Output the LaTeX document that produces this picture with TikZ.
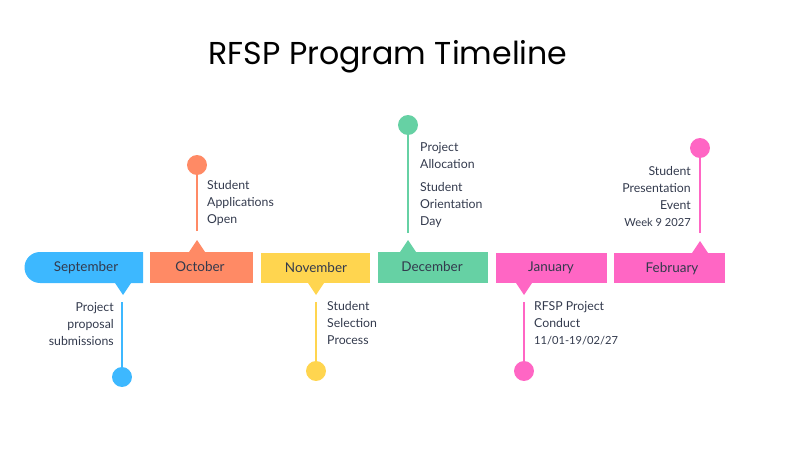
\documentclass[tikz,border=0pt]{standalone}
\usepackage{fontspec}
\setmainfont{Lato}
\newfontfamily\titlefont{Poppins}
\usetikzlibrary{positioning}
\definecolor{sepblue}{HTML}{3DB8FF}
\definecolor{octorange}{HTML}{FF8A65}
\definecolor{novyellow}{HTML}{FFD54F}
\definecolor{decgreen}{HTML}{66D1A4}
\definecolor{pinkish}{HTML}{FF66C4}
\definecolor{ink}{HTML}{333A4D}
\begin{document}
\begin{tikzpicture}[x=0.03cm, y=-0.03cm,
    month/.style={text=ink, font=\fontsize{11.5}{13}\selectfont},
    dot/.style={circle, minimum size=17pt, inner sep=0pt},
    stem/.style={line width=1.2pt},
    note/.style={text=ink, font=\fontsize{10.5}{14.5}\selectfont, inner sep=0pt, align=left}]
    \useasboundingbox (0,0) rectangle (800,450);

    \node[text=black, font=\titlefont\fontsize{27}{30}\selectfont] (title) at (388,57) {RFSP Program Timeline};

    % month bars
    \fill[sepblue] (143,252) -- (40,252) arc (270:90:15.5) -- (143,283) -- cycle;
    \fill[sepblue] (115,283) -- (123,295) -- (131,283) -- cycle;
    \node[month] (sep) at (86,268) {September};
    \fill[octorange] (150,252) rectangle (253,283);
    \fill[octorange] (189,252) -- (197,240) -- (205,252) -- cycle;
    \node[month] (oct) at (200,267) {October};
    \fill[novyellow] (261,253) rectangle (370,283);
    \fill[novyellow] (308,283) -- (316,295) -- (324,283) -- cycle;
    \node[month] (nov) at (316,268) {November};
    \fill[decgreen] (378,252) rectangle (488,283);
    \fill[decgreen] (400,252) -- (408,240) -- (416,252) -- cycle;
    \node[month] (dec) at (432,267) {December};
    \fill[pinkish] (496,253) rectangle (607,283);
    \fill[pinkish] (516,283) -- (524,295) -- (532,283) -- cycle;
    \node[month] (jan) at (551,268) {January};
    \fill[pinkish] (614,253) rectangle (725,283);
    \fill[pinkish] (692,253) -- (700,241) -- (708,253) -- cycle;
    \node[month] (feb) at (672,269) {February};

    % dots
    \node[dot, fill=sepblue] (d1) at (122,377) {};
    \node[dot, fill=octorange] (d2) at (197,165) {};
    \node[dot, fill=novyellow] (d3) at (316,371) {};
    \node[dot, fill=decgreen] (d4) at (408,125) {};
    \node[dot, fill=pinkish] (d5) at (524,371) {};
    \node[dot, fill=pinkish] (d6) at (700,148) {};

    \coordinate (p1) at (122,302);
    \coordinate (p2) at (197,231);
    \coordinate (p3) at (316,302);
    \coordinate (p4) at (408,233);
    \coordinate (p5) at (524,302);
    \coordinate (p6) at (700,233);

    \draw[stem, sepblue] (p1) -- ([yshift=-5pt]d1.north);
    \draw[stem, octorange] (p2) -- ([yshift=5pt]d2.south);
    \draw[stem, novyellow] (p3) -- ([yshift=-4pt]d3.north);
    \draw[stem, decgreen] (p4) -- ([yshift=5pt]d4.south);
    \draw[stem, pinkish] (p5) -- ([yshift=-5pt]d5.north);
    \draw[stem, pinkish] (p6) -- ([yshift=5pt]d6.south);

    % notes
    \node[note, align=right, anchor=north east] (t1) at (114,302) {Project\\proposal\\submissions};
    \node[note, anchor=north west] (t2) at (207,180) {Student\\Applications\\Open};
    \node[note, anchor=north west] (t3) at (327,301) {Student\\Selection\\Process};
    \node[note, anchor=north west] (t4) at (420,142) {Project\\Allocation};
    \node[note, anchor=north west] (t5) at (420,182) {Student\\Orientation\\Day};
    \node[note, anchor=north west] (t6) at (534,301) {RFSP Project\\Conduct\\{\fontsize{9.5}{14.5}\selectfont 11/01-19/02/27}};
    \node[note, align=right, anchor=north east] (t7) at (691,166) {Student\\Presentation\\Event\\{\fontsize{9.5}{14.5}\selectfont Week 9 2027}};
\end{tikzpicture}
\end{document}
